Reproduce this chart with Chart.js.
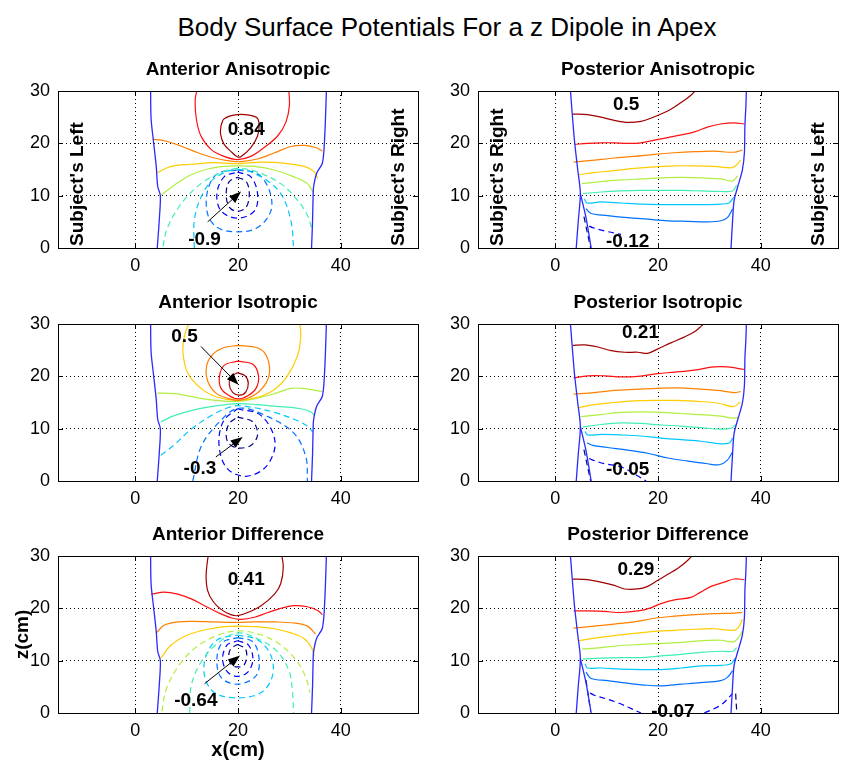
<!DOCTYPE html>
<html>
<head>
<meta charset="utf-8">
<script src="https://cdn.jsdelivr.net/npm/chart.js@4.4.1/dist/chart.umd.min.js"></script>
<style>
  html, body { margin: 0; padding: 0; background: #fff; overflow: hidden; }
  #page { position: relative; width: 842px; height: 760px; }
  #mainTitle {
    position: absolute; top: 12px; left: 447px; transform: translateX(-50%);
    white-space: nowrap; font: 26px "Liberation Sans", Arial, sans-serif; color: #000; line-height: 30px;
  }
  canvas { position: absolute; }
</style>
</head>
<body>
<div id="page">
  <div id="mainTitle">Body Surface Potentials For a z Dipole in Apex</div>
  <canvas id="antAniso" width="420" height="238" style="left:0;top:40px"></canvas>
  <canvas id="postAniso" width="422" height="238" style="left:420px;top:40px"></canvas>
  <canvas id="antIso" width="420" height="238" style="left:0;top:273px"></canvas>
  <canvas id="postIso" width="422" height="238" style="left:420px;top:273px"></canvas>
  <canvas id="antDiff" width="420" height="255" style="left:0;top:505px"></canvas>
  <canvas id="postDiff" width="422" height="255" style="left:420px;top:505px"></canvas>
</div>
<script>
const FONT = '"Liberation Sans", Arial, sans-serif';
Chart.defaults.font.family = FONT;

const xTicks = [0, 20, 40];
const zTicks = [0, 10, 20, 30];

// jet colours, index 0 = most negative contour level
const levelColors = ['#00008f', '#0000ff', '#0070ff', '#00c8ff', '#40f0b0', '#b0ee40', '#ffcc00', '#ff8000', '#ff1010', '#a00000'];
const edgeColor = '#2a2aff';

// torso outline, [x, z] in cm
const anteriorLeftEdge = [[3.0, 31], [3.1, 24.7], [3.6, 20.1], [4.1, 15.6], [4.4, 11.7], [4.9, 10.0], [4.7, 5.5], [4.3, 0]];
const anteriorRightEdge = [[37.2, 31], [37.1, 27.3], [36.8, 20.1], [36.4, 16.2], [35.3, 14.3], [34.7, 11.7], [34.6, 9.7], [34.5, 5.2], [34.3, 0]];
const posteriorLeftEdge = [[2.9, 31], [3.4, 24.7], [3.8, 20.1], [4.4, 14.9], [4.9, 10.4], [4.5, 5.2], [4.1, 0]];
const posteriorLeftEdge2 = [[4.9, 10.4], [6.0, 5.8], [7.0, 0]];
const posteriorRightEdge = [[37.2, 31], [37.1, 27.3], [36.9, 23.4], [36.8, 18.2], [36.4, 14.9], [35.5, 11.7], [34.8, 9.1], [34.5, 5.2], [34.2, 0]];

// contour lines: [level, [[x, z], ...]]
const antAnisoLines = [
  [9, [[16.7,23.4],[17.3,24.7],[19.9,25.5],[23.5,25.0],[24.1,23.7],[23.8,21.4],[22.5,19.2],[20.6,17.5],[19.9,17.4],[18.9,18.2],[17.3,19.8],[16.6,21.8],[16.7,23.4]]],
  [8, [[12.3,31],[11.7,28.6],[11.9,24.7],[12.8,21.4],[14.8,18.8],[17.3,17.5],[19.9,16.9],[22.5,17.5],[25.1,19.2],[27.7,21.4],[29.3,24.0],[30.0,27.3],[29.8,31]]],
  [7, [[3.4,20.8],[5.7,20.5],[8.9,19.5],[12.2,18.2],[15.4,17.2],[18.6,16.6],[20.6,16.5],[23.8,17.0],[27.1,18.2],[30.3,19.4],[32.9,19.6],[35.1,19.2],[36.4,18.5]]],
  [6, [[4.3,14.4],[7.0,15.6],[10.9,16.0],[15.4,16.3],[19.9,16.1],[24.5,16.4],[29.0,16.2],[32.9,15.6],[34.8,14.6],[35.5,13.3]]],
  [5, [[5.0,10.1],[7.6,12.0],[10.9,14.0],[14.1,15.1],[17.3,15.6],[19.9,15.7],[23.2,15.6],[27.1,14.9],[30.9,13.6],[33.5,12.3],[34.7,10.5]]],
  [4, [[5.4,0.3],[6.3,3.9],[8.9,8.4],[12.8,12.3],[16.7,14.4],[19.9,15.2],[23.8,14.5],[28.3,12.3],[31.6,9.1],[33.5,6.2],[34.3,3.9]]],
  [3, [[11.5,0],[11.5,5.2],[12.8,9.7],[15.4,13.3],[19.9,15.0],[24.5,13.6],[28.3,10.4],[30.3,5.2],[30.8,0]]],
  [2, [[19.9,14.9],[23.8,14.2],[26.1,11.0],[26.4,7.1],[23.8,3.9],[19.9,3.1],[16.0,3.9],[14.1,6.5],[14.1,11.0],[16.0,14.2],[19.9,14.9]]],
  [1, [[19.9,14.5],[22.5,13.6],[23.8,10.4],[23.2,7.1],[19.9,5.7],[16.7,7.1],[15.9,10.4],[17.3,13.6],[19.9,14.5]]],
  [0, [[19.9,13.5],[21.6,12.7],[22.2,10.4],[21.6,7.8],[19.9,7.0],[18.3,7.8],[17.7,10.4],[18.3,12.7],[19.9,13.5]]]
];
const postAnisoLines = [
  [9, [[3.4,25.6],[6.3,25.5],[8.9,25.0],[11.5,24.4],[14.1,24.0],[16.7,24.2],[18.6,24.8],[20.6,25.6],[22.5,26.5],[24.5,27.8],[26.4,29.2],[28.0,30.8]]],
  [8, [[3.8,19.8],[6.3,20.0],[8.9,20.1],[11.5,20.1],[14.1,20.0],[16.7,20.1],[19.3,20.6],[21.9,21.1],[24.5,21.6],[27.1,22.2],[29.6,23.1],[32.2,23.7],[34.8,23.9],[36.8,23.7]]],
  [7, [[3.6,16.4],[7.6,16.8],[11.5,17.2],[15.4,17.5],[19.3,17.9],[23.2,18.2],[27.1,18.4],[30.9,18.5],[34.8,18.3],[36.4,18.7]]],
  [6, [[4.5,14.0],[7.6,14.4],[11.5,14.8],[15.4,15.2],[19.3,15.5],[23.2,15.7],[27.1,15.7],[30.9,15.6],[34.2,15.3],[35.1,15.7],[36.1,16.8]]],
  [5, [[5.2,12.3],[8.9,12.7],[12.8,13.0],[16.7,13.2],[20.6,13.4],[24.5,13.5],[28.3,13.4],[32.2,13.2],[34.5,12.8],[35.5,13.8]]],
  [4, [[5.4,10.4],[8.9,10.7],[12.8,10.9],[16.7,11.0],[20.6,11.0],[24.5,11.0],[28.3,10.9],[32.2,10.8],[34.5,10.9],[35.3,12.0]]],
  [3, [[5.7,9.4],[6.2,8.6],[8.9,8.8],[12.8,8.6],[16.7,8.4],[20.6,8.3],[24.5,8.3],[28.3,8.3],[32.2,8.4],[33.8,8.6],[34.7,9.7]]],
  [2, [[6.0,7.5],[7.0,6.6],[10.2,6.2],[14.1,5.8],[18.0,5.5],[21.9,5.2],[25.8,5.1],[29.6,5.0],[32.2,5.2],[33.5,5.8],[34.5,7.5]]],
  [1, [[6.6,4.2],[7.3,3.9],[9.9,3.2],[12.8,2.6]]],
  [0, [[5.6,6.0],[6.9,0]]]
];
const antIsoLines = [
  [9, [[19.9,20.7],[21.4,20.1],[22.0,18.7],[21.5,17.0],[20.3,16.4],[19.0,16.9],[18.3,18.4],[18.6,19.9],[19.9,20.7]]],
  [8, [[19.9,22.9],[22.9,22.3],[24.0,20.0],[23.5,17.7],[21.9,16.3],[20.1,15.7],[18.3,16.3],[16.7,17.7],[16.4,20.0],[17.3,22.1],[19.9,22.9]]],
  [7, [[19.9,25.9],[23.2,25.6],[25.1,24.6],[26.1,22.0],[25.8,19.4],[24.1,17.1],[21.9,15.8],[20.1,15.4],[18.0,15.8],[15.7,16.8],[14.1,19.1],[13.9,22.0],[15.1,24.2],[17.3,25.5],[19.9,25.9]]],
  [6, [[10.9,31.1],[9.6,27.8],[9.3,24.6],[10.2,20.7],[12.8,17.7],[16.0,16.0],[19.9,15.4],[23.8,16.0],[27.1,17.5],[29.6,20.1],[31.6,24.0],[32.2,27.8],[31.9,31.1]]],
  [5, [[4.3,16.8],[7.6,16.7],[12.2,15.9],[16.0,15.4],[19.9,15.2],[23.2,15.7],[27.1,16.7],[30.3,17.7],[32.6,17.7],[36.4,17.1]]],
  [4, [[5.0,11.3],[7.6,12.5],[11.5,13.6],[16.0,14.4],[19.9,14.8],[23.8,14.6],[28.3,14.2],[32.2,13.8],[34.2,13.2],[34.8,12.6]]],
  [3, [[5.0,4.9],[7.6,6.9],[10.9,9.9],[14.8,12.5],[18.0,14.0],[19.9,14.4],[23.2,14.0],[27.1,13.1],[30.9,11.8],[33.5,10.5],[34.5,9.4]]],
  [2, [[11.2,0],[12.8,6.5],[16.1,11.0],[20.1,13.9],[25.8,12.3],[30.9,9.1],[33.2,4.6],[33.5,0]]],
  [1, [[19.9,13.8],[24.5,12.5],[27.2,7.5],[25.5,2.8],[21.5,0.9],[17.8,2.5],[16.3,7.0],[17.2,11.5],[19.9,13.8]]],
  [0, [[19.9,12.2],[22.9,11.3],[23.8,8.8],[22.5,6.8],[19.9,6.3],[18.2,7.2],[17.7,8.8],[18.3,11.0],[19.9,12.2]]]
];
const postIsoLines = [
  [9, [[3.4,25.9],[5.7,26.0],[8.3,25.6],[10.9,24.9],[13.5,24.6],[16.1,24.6],[18.0,24.4],[19.9,25.2],[22.5,26.4],[25.1,27.5],[27.1,28.5],[28.3,29.5],[29.6,30.8]]],
  [8, [[3.6,19.7],[6.3,20.1],[9.6,20.1],[12.8,19.9],[16.1,20.0],[19.9,20.5],[23.2,20.8],[27.1,21.2],[30.9,21.8],[33.5,21.8],[36.8,21.3]]],
  [7, [[3.6,16.6],[7.6,16.9],[11.5,17.3],[15.4,17.5],[19.9,17.7],[23.8,17.8],[27.7,17.6],[31.6,17.3],[34.8,16.9],[36.1,17.1]]],
  [6, [[4.4,14.0],[7.6,14.6],[11.5,15.0],[15.4,15.3],[19.9,15.4],[23.8,15.4],[27.7,15.2],[31.6,14.9],[34.7,14.2],[36.0,15.1]]],
  [5, [[5.0,12.3],[8.9,12.7],[12.8,13.1],[16.7,13.2],[20.6,13.1],[24.5,12.9],[28.3,12.7],[32.2,12.4],[34.5,12.0],[35.8,12.2]]],
  [4, [[5.4,10.3],[8.9,10.8],[12.8,11.1],[16.7,11.0],[20.6,10.7],[24.5,10.5],[28.3,10.2],[32.2,9.9],[34.3,10.1],[35.1,10.8]]],
  [3, [[5.8,9.5],[6.3,8.8],[8.9,8.9],[12.8,8.8],[16.7,8.6],[20.6,8.2],[24.5,7.9],[28.3,7.6],[32.2,7.1],[33.9,7.3],[34.5,8.2]]],
  [2, [[6.2,7.3],[7.3,6.8],[10.2,6.4],[14.1,5.9],[18.0,5.3],[21.9,4.4],[25.8,3.8],[29.6,3.3],[31.9,3.1],[33.5,4.0],[34.5,5.6]]],
  [1, [[6.6,4.3],[7.3,4.0],[9.6,3.3],[12.8,2.7],[16.0,1.0],[17.7,0]]],
  [0, [[5.6,6.0],[6.9,0]]]
];
const antDiffLines = [
  [9, [[14.4,31.2],[14.0,28.6],[13.8,26.0],[14.1,23.4],[15.1,21.4],[16.7,19.8],[18.6,18.8],[19.9,18.6],[21.9,19.2],[24.5,20.5],[27.1,22.7],[28.3,24.7],[28.8,27.9],[28.3,31.2]]],
  [8, [[3.1,22.7],[5.7,23.1],[8.3,22.7],[10.9,21.8],[13.5,20.5],[16.1,19.2],[18.6,18.2],[20.6,17.9],[23.2,18.3],[25.8,19.2],[28.3,20.0],[30.9,20.5],[33.5,20.3],[35.5,19.6],[36.4,18.8]]],
  [7, [[4.1,15.3],[5.7,16.8],[8.3,17.4],[11.5,17.5],[15.4,17.4],[19.9,17.3],[23.2,17.4],[27.1,17.4],[30.9,17.2],[33.5,16.6],[35.1,15.1]]],
  [6, [[5.0,10.5],[7.0,13.0],[10.2,14.9],[14.1,16.0],[17.3,16.5],[19.9,16.6],[23.2,16.5],[27.1,16.1],[30.3,15.3],[32.9,14.2],[34.3,12.5],[34.8,10.9]]],
  [5, [[5.2,0.3],[6.0,4.4],[8.3,8.8],[11.5,12.3],[15.4,14.6],[19.9,15.7],[24.5,14.9],[28.3,13.0],[31.3,10.1],[33.2,6.8],[34.0,3.9]]],
  [4, [[10.6,0],[10.9,5.2],[12.8,9.7],[16.0,13.3],[19.9,15.3],[23.8,14.2],[27.7,11.7],[30.0,7.8],[30.6,3.9],[30.8,0]]],
  [3, [[19.9,14.9],[23.8,14.0],[26.4,11.0],[26.7,7.1],[24.5,3.9],[19.9,2.9],[15.4,3.9],[13.5,7.1],[13.8,11.0],[16.0,14.0],[19.9,14.9]]],
  [2, [[19.9,14.4],[22.9,13.6],[24.1,10.4],[23.5,7.1],[19.9,5.5],[16.7,6.8],[15.9,10.4],[17.0,13.5],[19.9,14.4]]],
  [1, [[19.9,13.8],[22.0,13.0],[22.9,10.4],[22.0,7.9],[19.9,7.0],[17.9,7.9],[17.0,10.4],[17.9,13.0],[19.9,13.8]]],
  [0, [[19.9,13.1],[21.4,12.3],[21.7,10.7],[21.1,9.1],[19.9,8.8],[18.8,9.1],[18.2,10.7],[18.6,12.3],[19.9,13.1]]]
];
const postDiffLines = [
  [9, [[3.4,25.6],[6.3,25.5],[8.9,25.0],[11.5,24.4],[13.5,23.7],[16.1,23.7],[18.0,24.2],[19.9,25.3],[21.9,26.5],[23.8,27.6],[25.8,29.2],[27.1,30.6]]],
  [8, [[3.6,19.5],[6.3,19.5],[9.6,19.4],[12.8,19.2],[16.1,19.5],[18.6,20.1],[20.6,20.9],[23.2,21.6],[26.4,22.1],[28.3,23.1],[30.3,24.2],[32.9,25.0],[34.8,25.6],[36.8,25.5]]],
  [7, [[3.6,16.2],[7.6,16.6],[11.5,17.0],[15.4,17.4],[19.3,18.1],[23.2,18.5],[27.1,18.8],[30.9,19.0],[34.8,19.1],[36.4,19.2]]],
  [6, [[4.5,13.8],[7.6,14.3],[11.5,14.8],[15.4,15.2],[19.3,15.6],[23.2,15.8],[27.1,16.0],[30.9,16.1],[34.8,15.8],[35.8,16.6],[36.4,17.9]]],
  [5, [[5.2,12.2],[8.9,12.5],[12.8,12.9],[16.7,13.1],[20.6,13.3],[24.5,13.5],[28.3,13.8],[32.2,13.9],[34.7,13.6],[35.8,14.6],[36.4,15.7]]],
  [4, [[5.4,10.3],[8.9,10.5],[12.8,10.6],[16.7,10.6],[20.6,10.9],[24.5,11.2],[28.3,11.6],[32.2,11.8],[34.5,11.8],[35.3,12.5]]],
  [3, [[5.8,9.4],[6.3,8.6],[8.9,8.6],[12.8,8.4],[16.7,8.3],[20.6,8.3],[24.5,8.6],[28.3,9.0],[32.2,9.1],[34.2,9.4],[35.0,10.5]]],
  [2, [[6.0,7.8],[7.0,6.6],[10.2,6.2],[14.1,5.7],[18.0,5.3],[20.6,5.2],[24.5,5.5],[28.3,5.8],[32.2,6.2],[33.5,6.8],[34.5,8.1]]],
  [1, [[6.8,3.8],[7.6,3.4],[11.8,2.1],[16.7,0]]],
  [1, [[29.0,0],[32.2,1.5],[34.5,3.7]]],
  [0, [[6.0,6.3],[6.9,0.3]]],
  [0, [[35.1,3.7],[35.3,0.3]]]
];

// labelled extreme values; optional arrow from -> to
const antAnisoNotes = [
  { text: '0.84', x: 21.6, z: 22.6 },
  { text: '-0.9', x: 13.5, z: 1.5, from: [14.1, 5.0], to: [20.6, 10.8] }
];
const postAnisoNotes = [{ text: '0.5', x: 13.8, z: 27.4 }, { text: '-0.12', x: 14.1, z: 1.2 }];
const antIsoNotes = [
  { text: '0.5', x: 9.6, z: 27.6, from: [12.8, 25.7], to: [20.1, 18.4] },
  { text: '-0.3', x: 12.6, z: 2.4, from: [15.7, 4.6], to: [20.9, 8.4] }
];
const postIsoNotes = [{ text: '0.21', x: 16.6, z: 28.4 }, { text: '-0.05', x: 14.1, z: 2.1 }];
const antDiffNotes = [
  { text: '0.41', x: 21.6, z: 25.4 },
  { text: '-0.64', x: 11.8, z: 2.4, from: [13.5, 5.6], to: [20.4, 11.0] }
];
const postDiffNotes = [{ text: '0.29', x: 15.7, z: 27.4 }, { text: '-0.07', x: 22.9, z: 0.2 }];

function toPoints(pts) {
    return pts.map(([x, z]) => ({ x: x, y: z }));
}

const panelPlugin = {
    id: 'panel',
    afterDraw(chart, args, opts) {
        const { ctx, chartArea: a, scales: { x, y } } = chart;
        ctx.save();
        // box and inward ticks
        ctx.strokeStyle = '#000';
        ctx.lineWidth = 1;
        ctx.setLineDash([]);
        ctx.strokeRect(Math.round(a.left) + 0.5, Math.round(a.top) + 0.5, Math.round(a.right - a.left), Math.round(a.bottom - a.top));
        ctx.beginPath();
        x.ticks.forEach(t => {
            const px = Math.round(x.getPixelForValue(t.value)) + 0.5;
            ctx.moveTo(px, a.bottom); ctx.lineTo(px, a.bottom - 5);
            ctx.moveTo(px, a.top); ctx.lineTo(px, a.top + 5);
        });
        y.ticks.forEach(t => {
            const py = Math.round(y.getPixelForValue(t.value)) + 0.5;
            ctx.moveTo(a.left, py); ctx.lineTo(a.left + 5, py);
            ctx.moveTo(a.right, py); ctx.lineTo(a.right - 5, py);
        });
        ctx.stroke();

        ctx.fillStyle = '#000';
        ctx.font = 'bold 19px ' + FONT;
        // value labels and arrows
        (opts.notes || []).forEach(n => {
            if (n.from) {
                const x0 = x.getPixelForValue(n.from[0]), y0 = y.getPixelForValue(n.from[1]);
                const x1 = x.getPixelForValue(n.to[0]), y1 = y.getPixelForValue(n.to[1]);
                const ang = Math.atan2(y1 - y0, x1 - x0);
                ctx.beginPath();
                ctx.moveTo(x0, y0);
                ctx.lineTo(x1 - 8 * Math.cos(ang), y1 - 8 * Math.sin(ang));
                ctx.stroke();
                ctx.beginPath();
                ctx.moveTo(x1, y1);
                ctx.lineTo(x1 - 12 * Math.cos(ang) + 4.5 * Math.sin(ang), y1 - 12 * Math.sin(ang) - 4.5 * Math.cos(ang));
                ctx.lineTo(x1 - 12 * Math.cos(ang) - 4.5 * Math.sin(ang), y1 - 12 * Math.sin(ang) + 4.5 * Math.cos(ang));
                ctx.closePath();
                ctx.fill();
            }
            ctx.textAlign = 'center';
            ctx.textBaseline = 'middle';
            ctx.fillText(n.text, x.getPixelForValue(n.x), y.getPixelForValue(n.z));
        });
        // orientation labels
        if (opts.sides) {
            ctx.textAlign = 'left';
            ctx.textBaseline = 'middle';
            [[a.left + 20, opts.sides[0]], [a.right - 19, opts.sides[1]]].forEach(([px, text]) => {
                ctx.save();
                ctx.translate(px, a.bottom - 2);
                ctx.rotate(-Math.PI / 2);
                ctx.fillText(text, 0, 0);
                ctx.restore();
            });
        }
        ctx.restore();
    }
};

function createPanel(id, title, lines, lastDashed, edges, notes, sides, axisTitles) {
    const ctx = document.getElementById(id);
    const datasets = edges.map(e => ({
        data: toPoints(e),
        borderColor: edgeColor,
        borderWidth: 1.3,
        tension: 0.3
    }));
    lines.forEach(([lvl, pts]) => {
        datasets.push({
            data: toPoints(pts),
            borderColor: levelColors[lvl],
            borderWidth: 1.2,
            borderDash: lvl <= lastDashed ? [6, 4] : [],
            tension: 0.35
        });
    });
    const xAxisHeight = ctx.height - 51 - 157;

    new Chart(ctx, {
        type: 'scatter',
        data: { datasets: datasets },
        options: {
            responsive: false,
            animation: false,
            events: [],
            showLine: true,
            elements: { point: { radius: 0 } },
            layout: { padding: { left: 0, right: ctx.width - 418, top: 0, bottom: 0 } },
            scales: {
                x: {
                    type: 'linear',
                    min: -15,
                    max: 55,
                    afterBuildTicks: s => { s.ticks = xTicks.map(v => ({ value: v })); },
                    afterFit: s => { s.height = xAxisHeight; },
                    grid: { color: '#000', lineWidth: 1, drawTicks: false },
                    border: { display: false, dash: [1, 3] },
                    ticks: { color: '#000', font: { size: 18 }, padding: 7, maxRotation: 0 },
                    title: {
                        display: !!axisTitles,
                        text: 'x(cm)',
                        color: '#000',
                        font: { size: 20, weight: 'bold', lineHeight: 1 },
                        padding: 0
                    }
                },
                y: {
                    type: 'linear',
                    min: 0,
                    max: 30,
                    afterBuildTicks: s => { s.ticks = zTicks.map(v => ({ value: v })); },
                    afterFit: s => { s.width = 58; },
                    grid: { color: '#000', lineWidth: 1, drawTicks: false },
                    border: { display: false, dash: [1, 3] },
                    ticks: { color: '#000', font: { size: 18 }, padding: 8 },
                    title: {
                        display: !!axisTitles,
                        text: 'z(cm)',
                        color: '#000',
                        font: { size: 19, weight: 'bold', lineHeight: 1 },
                        padding: { top: 13, bottom: 0 }
                    }
                }
            },
            plugins: {
                legend: { display: false },
                tooltip: { enabled: false },
                title: {
                    display: true,
                    text: title,
                    fullSize: false,
                    color: '#000',
                    font: { size: 19, weight: 'bold', lineHeight: 1 },
                    padding: { top: 20.5, bottom: 11.5 }
                },
                panel: { notes: notes, sides: sides }
            }
        },
        plugins: [panelPlugin]
    });
}

const antEdges = [anteriorLeftEdge, anteriorRightEdge];
const postEdges = [posteriorLeftEdge, posteriorLeftEdge2, posteriorRightEdge];

createPanel('antAniso', 'Anterior Anisotropic', antAnisoLines, 4, antEdges, antAnisoNotes, ["Subject's Left", "Subject's Right"]);
createPanel('postAniso', 'Posterior Anisotropic', postAnisoLines, 1, postEdges, postAnisoNotes, ["Subject's Right", "Subject's Left"]);
createPanel('antIso', 'Anterior Isotropic', antIsoLines, 3, antEdges, antIsoNotes, null);
createPanel('postIso', 'Posterior Isotropic', postIsoLines, 1, postEdges, postIsoNotes, null);
createPanel('antDiff', 'Anterior Difference', antDiffLines, 5, antEdges, antDiffNotes, null, true);
createPanel('postDiff', 'Posterior Difference', postDiffLines, 1, postEdges, postDiffNotes, null);
</script>
</body>
</html>
